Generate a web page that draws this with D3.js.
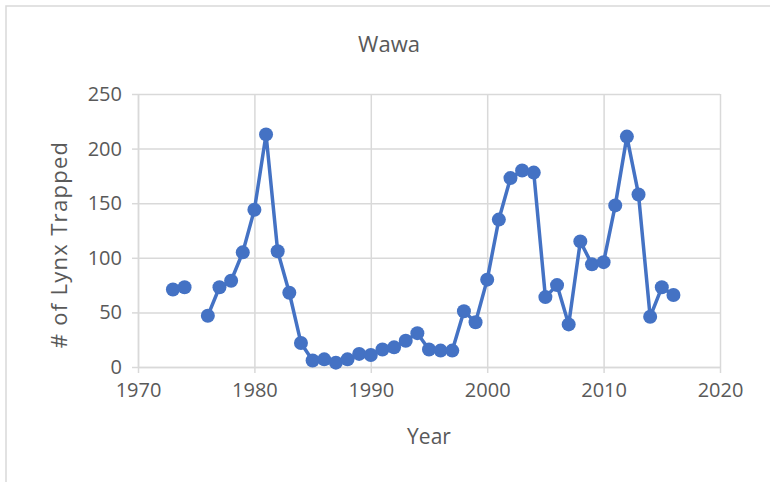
<!DOCTYPE html>
<html lang="en">

<head>
    <meta charset="UTF-8">
    <title>Wawa</title>
    <style>
        body {
            margin: 0;
            background: white;
        }

        text {
            font-family: "Open Sans", sans-serif;
            fill: #595959;
        }
    </style>
</head>

<body>
    <script src="https://cdn.jsdelivr.net/npm/d3@7"></script>
    <script>
        const years = [1973, 1974, 1975, 1976, 1977, 1978, 1979, 1980, 1981, 1982, 1983, 1984, 1985, 1986,
            1987, 1988, 1989, 1990, 1991, 1992, 1993, 1994, 1995, 1996, 1997, 1998, 1999, 2000, 2001,
            2002, 2003, 2004, 2005, 2006, 2007, 2008, 2009, 2010, 2011, 2012, 2013, 2014, 2015, 2016];
        const lynx_trapped = [71, 73, null, 47, 73, 79, 105, 144, 213, 106, 68, 22, 6, 7,
            4, 7, 12, 11, 16, 18, 24, 31, 16, 15, 15, 51, 41, 80, 135,
            173, 180, 178, 64, 75, 39, 115, 94, 96, 148, 211, 158, 46, 73, 66];
        const x_ticks = [1970, 1980, 1990, 2000, 2010, 2020];
        const y_ticks = [0, 50, 100, 150, 200, 250];

        const svg_w = 770;
        const svg_h = 482;
        const plot = { left: 138, right: 720, top: 94, bottom: 367 };
        const grid_color = '#d9d9d9';
        const blue = '#4472c4';

        const svg = d3.select('body').append('svg')
            .attr('width', svg_w)
            .attr('height', svg_h);

        // chart frame
        svg.append('rect')
            .attr('x', 6).attr('y', 6)
            .attr('width', svg_w + 10).attr('height', svg_h + 10)
            .attr('fill', 'white')
            .attr('stroke', grid_color)
            .attr('stroke-width', 1.5);

        const x_scale = d3.scaleLinear([1970, 2020], [plot.left, plot.right]);
        const y_scale = d3.scaleLinear([0, 250], [plot.bottom, plot.top]);

        // gridlines
        svg.append('g')
            .attr('transform', `translate(0, ${plot.bottom})`)
            .call(d3.axisBottom(x_scale).tickValues(x_ticks)
                .tickSize(-(plot.bottom - plot.top)).tickFormat(''))
            .call(g => g.select('.domain').remove())
            .call(g => g.selectAll('line').attr('stroke', grid_color).attr('stroke-width', 1.5));

        svg.append('g')
            .attr('transform', `translate(${plot.left}, 0)`)
            .call(d3.axisLeft(y_scale).tickValues(y_ticks)
                .tickSize(-(plot.right - plot.left)).tickFormat(''))
            .call(g => g.select('.domain').remove())
            .call(g => g.selectAll('line').attr('stroke', grid_color).attr('stroke-width', 1.5));

        // axes with outside ticks
        const x_axis = svg.append('g')
            .attr('transform', `translate(0, ${plot.bottom})`)
            .call(d3.axisBottom(x_scale).tickValues(x_ticks).tickFormat(d3.format('d'))
                .tickSizeInner(6).tickSizeOuter(0).tickPadding(10));
        const y_axis = svg.append('g')
            .attr('transform', `translate(${plot.left}, 0)`)
            .call(d3.axisLeft(y_scale).tickValues(y_ticks)
                .tickSizeInner(6).tickSizeOuter(0).tickPadding(10));

        [x_axis, y_axis].forEach(g => {
            g.select('.domain').attr('stroke', grid_color).attr('stroke-width', 1.5);
            g.selectAll('.tick line').attr('stroke', grid_color).attr('stroke-width', 1.5);
            g.selectAll('text')
                .style('font-family', '"Open Sans", sans-serif')
                .style('font-size', '20px')
                .attr('fill', '#595959');
        });

        const data = years.map((y, i) => ({ year: y, value: lynx_trapped[i] }));

        const line = d3.line()
            .defined(d => d.value != null)
            .x(d => x_scale(d.year))
            .y(d => y_scale(d.value));

        svg.append('path')
            .datum(data)
            .attr('d', line)
            .attr('fill', 'none')
            .attr('stroke', blue)
            .attr('stroke-width', 3.5)
            .attr('stroke-linejoin', 'round');

        svg.append('g').selectAll('circle')
            .data(data.filter(d => d.value != null))
            .join('circle')
            .attr('cx', d => x_scale(d.year))
            .attr('cy', d => y_scale(d.value))
            .attr('r', 7)
            .attr('fill', blue);

        // titles
        svg.append('text')
            .attr('x', 389).attr('y', 52)
            .attr('text-anchor', 'middle')
            .style('font-size', '22px')
            .text('Wawa');

        svg.append('text')
            .attr('x', (plot.left + plot.right) / 2).attr('y', 444)
            .attr('text-anchor', 'middle')
            .style('font-size', '21px')
            .text('Year');

        svg.append('text')
            .attr('transform', `translate(67, ${(plot.top + plot.bottom) / 2 + 14}) rotate(-90)`)
            .attr('text-anchor', 'middle')
            .style('font-size', '22px')
            .style('letter-spacing', '1.3px')
            .text('# of Lynx  Trapped');
    </script>
</body>

</html>
